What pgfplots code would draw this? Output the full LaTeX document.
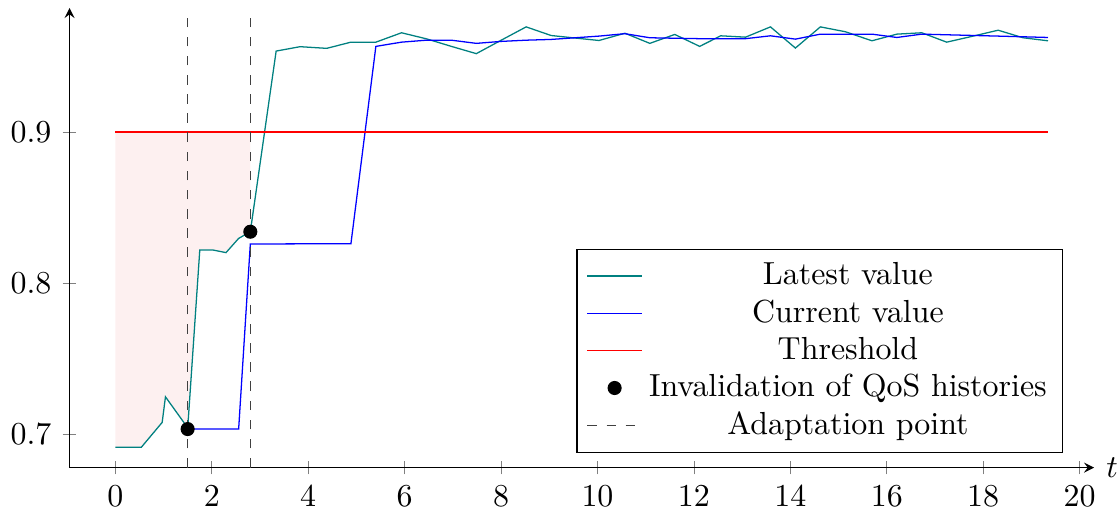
\documentclass[border=0pt]{standalone}
\usepackage{pgfplots}
\pgfplotsset{compat=1.18}
\definecolor{shade}{RGB}{253,240,240}
\definecolor{thrred}{RGB}{255,0,0}
\definecolor{curblue}{RGB}{0,0,255}
\definecolor{latteal}{RGB}{0,128,128}
\begin{document}
\begin{tikzpicture}
\begin{axis}[
  scale only axis,
  width=321pt, height=144pt,
  axis lines=left,
  tick align=center,
  xmin=-0.95, xmax=20.3,
  ymin=0.678, ymax=0.982,
  xtick={0,2,...,20},
  ytick={0.7,0.8,0.9},
  yticklabel style={/pgf/number format/fixed, /pgf/number format/precision=1},
  xlabel={$t$},
  every axis x label/.style={at={(current axis.right of origin)}, anchor=west, inner sep=0pt, xshift=3.6pt},
  legend cell align=center,
  legend style={at={(0.97,0.032)}, anchor=south east, row sep=-0.8pt},
]
\addplot[draw=none, fill=shade, forget plot] coordinates {
(0,0.9) (0,0.6914) (0.538,0.6914) (0.972,0.7079) (1.040,0.7248) (1.421,0.7079) (1.5,0.7035)
(1.752,0.8219) (2.027,0.8219) (2.296,0.8202) (2.558,0.8296) (2.8,0.8340) (2.8,0.9)
} -- cycle;
\addplot[draw=latteal] coordinates {
(0,0.6914) (0.538,0.6914) (0.972,0.7079) (1.040,0.7248) (1.421,0.7079) (1.5,0.7035)
(1.752,0.8219) (2.027,0.8219) (2.296,0.8202) (2.558,0.8296) (2.8,0.8340)
(3.336,0.9535) (3.832,0.9564) (4.385,0.9553) (4.887,0.9594) (5.404,0.9594)
(5.936,0.9656) (6.453,0.9616) (6.970,0.9566) (7.487,0.9518) (8.004,0.9607)
(8.521,0.9695) (9.038,0.9638) (9.514,0.9622) (10.031,0.9605) (10.569,0.9653)
(11.086,0.9586) (11.603,0.9645) (12.120,0.9566) (12.554,0.9636) (13.071,0.9627)
(13.588,0.9695) (14.105,0.9555) (14.623,0.9695) (15.140,0.9663) (15.692,0.9603)
(16.209,0.9647) (16.726,0.9656) (17.243,0.9594) (17.766,0.9632) (18.310,0.9673)
(18.827,0.9623) (19.344,0.9603)
};
\addlegendentry{Latest value}
\addplot[draw=curblue] coordinates {
(1.5,0.7035) (2.558,0.7035) (2.8,0.8259) (4.887,0.8261) (5.404,0.9566)
(5.936,0.9594) (6.453,0.9607) (6.970,0.9607) (7.487,0.9586) (8.004,0.9599)
(8.521,0.9607) (9.038,0.9612) (10.031,0.9634) (10.569,0.9650) (11.086,0.9623)
(12.120,0.9617) (13.071,0.9617) (13.588,0.9636) (14.105,0.9614) (14.623,0.9647)
(15.692,0.9647) (16.209,0.9625) (16.726,0.9647) (18.310,0.9634) (19.344,0.9625)
};
\addlegendentry{Current value}
\addplot[draw=thrred, line width=0.45pt] coordinates {(0,0.9) (19.344,0.9)};
\addlegendentry{Threshold}
\addplot[only marks, mark=*, black, mark size=2pt] coordinates {(1.5,0.7035) (2.8,0.8340)};
\addlegendentry{Invalidation of QoS histories}
\addplot[dashed, draw=black!75, line width=0.5pt] coordinates {(1.5,0.678) (1.5,0.982)};
\addlegendentry{Adaptation point}
\addplot[dashed, draw=black!75, line width=0.5pt, forget plot] coordinates {(2.8,0.678) (2.8,0.982)};
\end{axis}
\path ([yshift=2.5pt]current axis.north) -- ([yshift=-3pt]current axis.south);
\end{tikzpicture}
\end{document}
